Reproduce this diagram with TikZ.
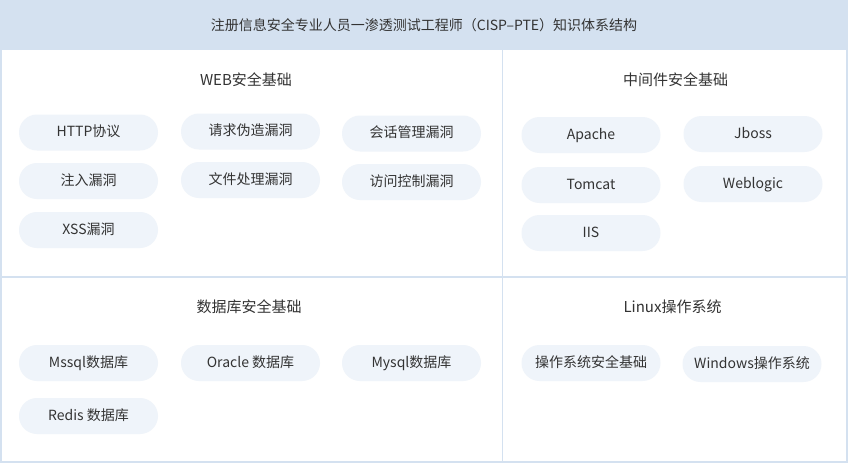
\documentclass[tikz,border=0pt]{standalone}
\usepackage{fontspec}
\setmainfont{Noto Sans CJK SC}
\definecolor{hdrblue}{HTML}{D4E1F0}
\definecolor{framec}{HTML}{D4E1F0}
\definecolor{pillc}{HTML}{EFF4FA}
\definecolor{txtc}{HTML}{333333}
\begin{document}
\begin{tikzpicture}[x=1pt,y=-1pt,
  pill/.style={rectangle, rounded corners=18pt, fill=pillc, minimum width=139pt, minimum height=36pt, inner sep=0pt, text=txtc, font=\fontsize{14}{16}\selectfont, text height=10.5pt, text depth=2.5pt},
  sectitle/.style={text=txtc, font=\fontsize{15}{17}\selectfont, inner sep=0pt},
  headtitle/.style={text=txtc, font=\fontsize{14}{16}\selectfont, inner sep=0pt},
  frame/.style={draw=framec, line width=1.3pt}]
\useasboundingbox (0,0) rectangle (848,463);
\fill[white] (0,0) rectangle (848,463);
\fill[hdrblue] (0,0) rectangle (848,50);
\node[headtitle] (title) at (424,25) {注册信息安全专业人员一渗透测试工程师（CISP–PTE）知识体系结构};
% frame
\coordinate (tl) at (1,50);
\coordinate (bl) at (1,462);
\coordinate (br) at (847,462);
\coordinate (tr) at (847,50);
\coordinate (vt) at (502.5,50);
\coordinate (vb) at (502.5,462);
\coordinate (hl) at (1,277);
\coordinate (hr) at (847,277);
\draw[frame] (tl) -- (bl) -- (br) -- (tr);
\draw[frame] (vt) -- (vb);
\draw[frame] (hl) -- (hr);
% section titles
\node[sectitle] (webt) at (246,80) {WEB安全基础};
\node[sectitle] (midt) at (675.5,80) {中间件安全基础};
\node[sectitle] (dbt) at (249,307) {数据库安全基础};
\node[sectitle] (ost) at (672.5,307) {Linux操作系统};
% WEB
\node[pill] (http) at (88.5,132.5) {HTTP协议};
\node[pill] (csrf) at (250.5,131.5) {请求伪造漏洞};
\node[pill] (sess) at (411.5,133.5) {会话管理漏洞};
\node[pill] (inj) at (88.5,181) {注入漏洞};
\node[pill] (file) at (250.5,180) {文件处理漏洞};
\node[pill] (acc) at (411.5,182) {访问控制漏洞};
\node[pill] (xss) at (88.5,230) {XSS漏洞};
% middleware
\node[pill] (apache) at (591,135) {Apache};
\node[pill] (jboss) at (753,134) {Jboss};
\node[pill] (tomcat) at (591,185) {Tomcat};
\node[pill] (weblogic) at (753,184) {Weblogic};
\node[pill] (iis) at (591,233) {IIS};
% database
\node[pill] (mssql) at (88.5,363) {Mssql数据库};
\node[pill] (oracle) at (250.5,363) {Oracle 数据库};
\node[pill] (mysql) at (411.5,363) {Mysql数据库};
\node[pill] (redis) at (88.5,416) {Redis 数据库};
% OS
\node[pill] (ossec) at (591,363) {操作系统安全基础};
\node[pill] (win) at (752,364) {Windows操作系统};
\end{tikzpicture}
\end{document}
